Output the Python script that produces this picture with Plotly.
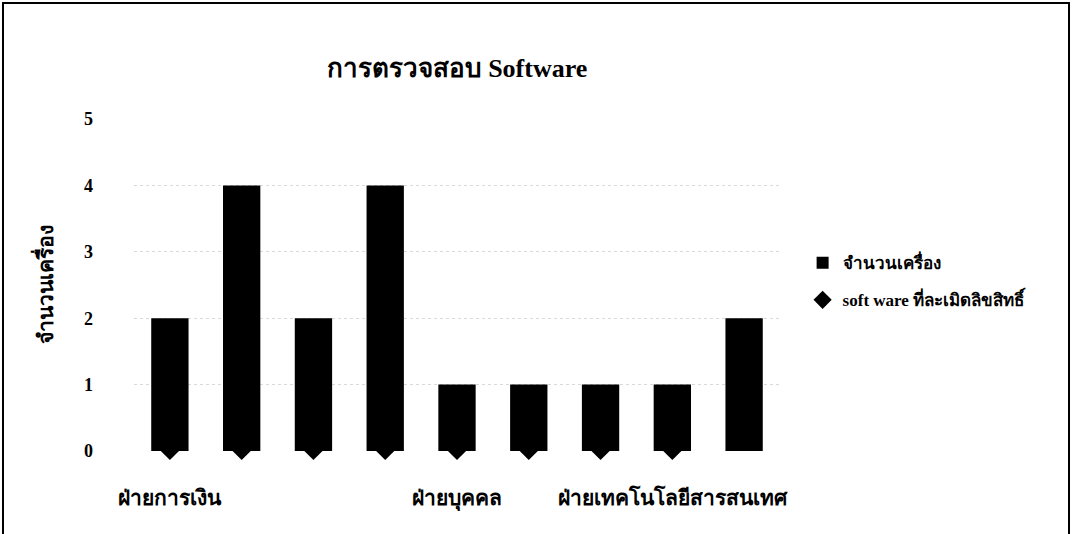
import plotly.graph_objects as go

categories = ["ฝ่ายการเงิน", "c2", "c3", "c4", "ฝ่ายบุคคล", "c6", "c7", "ฝ่ายเทคโนโลยีสารสนเทศ", "c9"]
shown_labels = ["ฝ่ายการเงิน", "", "", "", "ฝ่ายบุคคล", "", "", "ฝ่ายเทคโนโลยีสารสนเทศ", ""]
machines = [2, 4, 2, 4, 1, 1, 1, 1, 2]
pirated = [0, 0, 0, 0, 0, 0, 0, 0, None]
y_ticks = [0, 1, 2, 3, 4, 5]

W, H = 1073, 534
ML, MR, MT, MB = 134, 293, 119, 83
FONT = "Liberation Serif, DejaVu Serif, serif"

xs = list(range(len(categories)))
label_idx = [i for i, t in enumerate(shown_labels) if t]

fig = go.Figure()
# diamonds drawn on the base axis (beneath), bars on an overlaid axis (on top)
fig.add_trace(go.Scatter(
    x=xs, y=pirated, mode="markers", name="<b>soft ware ที่ละเมิดลิขสิทธิ์</b>",
    marker=dict(symbol="diamond", size=14, color="black"),
    cliponaxis=False, xaxis="x", yaxis="y", legendrank=2, legendgroup="b",
))
fig.add_trace(go.Bar(
    x=xs, y=machines, name="<b>จำนวนเครื่อง</b>", marker=dict(color="black", line=dict(width=0)),
    width=0.52, xaxis="x", yaxis="y2", legendrank=1, legendgroup="a",
))

fig.update_layout(
    width=W, height=H,
    margin=dict(l=ML, r=MR, t=MT, b=MB),
    paper_bgcolor="white", plot_bgcolor="white",
    font=dict(family=FONT, color="black", size=18),
    showlegend=True,
    title=dict(text="<b>การตรวจสอบ Software</b>", x=(ML + 323) / W, xanchor="center",
               y=1 - 68 / H, yanchor="middle", font=dict(size=26, family=FONT)),
    legend=dict(x=1.035, y=0.51, xanchor="left", yanchor="middle",
                font=dict(size=17, family=FONT), itemwidth=30, tracegroupgap=12,
                traceorder="grouped"),
    xaxis=dict(range=[-0.5, len(categories) - 0.5], tickvals=[xs[i] for i in label_idx],
               ticktext=[f"<b>{shown_labels[i]}</b>" for i in label_idx],
               showgrid=False, zeroline=False, showline=False, ticks="",
               ticklabelstandoff=32, tickfont=dict(size=21, family=FONT)),
    yaxis=dict(range=[0, 5.001], tickvals=y_ticks, ticktext=[f"<b>{v}</b>" for v in y_ticks],
               showgrid=True, gridcolor="#d9d9d9", griddash="dot", gridwidth=1,
               zeroline=False, showline=False, ticks="", ticklabelstandoff=40,
               tickfont=dict(size=18, family=FONT),
               title=dict(text="<b>จำนวนเครื่อง</b>", font=dict(size=21, family=FONT), standoff=24)),
    yaxis2=dict(range=[0, 5.001], overlaying="y", showgrid=False, zeroline=False,
                showticklabels=False, showline=False, ticks=""),
    shapes=[dict(type="rect", xref="paper", yref="paper",
                 x0=-(ML - 3) / (W - ML - MR), x1=1 + (MR - 4) / (W - ML - MR),
                 y0=-(MB + 20) / (H - MT - MB), y1=1 + (MT - 3) / (H - MT - MB),
                 line=dict(color="black", width=2), layer="below")],
)

fig.write_html("out.html")
